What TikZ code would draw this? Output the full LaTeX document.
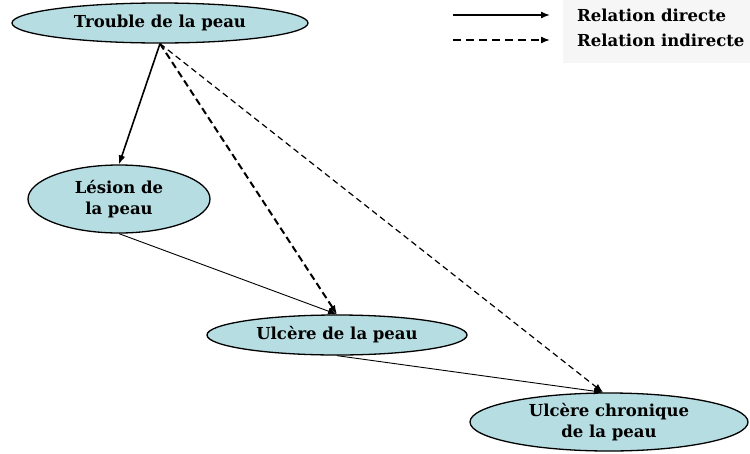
\documentclass[tikz,border=0pt]{standalone}
\usepackage{fontspec}
\setmainfont{DejaVu Serif}
\usepackage{tikz}
\usetikzlibrary{positioning}
\usetikzlibrary{arrows.meta}
\usetikzlibrary{shapes.geometric}
\definecolor{skin}{RGB}{182,221,226}
\definecolor{legendback}{RGB}{246,246,246}

\begin{document}
\begin{tikzpicture}[->,>={Latex[length=9pt,width=7pt]},on grid,
  main node/.style={ellipse,draw,line width=1.3pt,fill=skin,inner sep=0pt,align=center,
    font=\fontsize{16.5}{21}\selectfont\bfseries},
  legend node/.style={anchor=west,inner sep=0pt,font=\fontsize{16.5}{18}\selectfont\bfseries},
  direct/.style={solid,line width=0.9pt},
  indirect/.style={line width=1.2pt,dash pattern=on 6pt off 4pt}]

  \useasboundingbox (0,0) rectangle (750pt,-453pt);
  \fill[-,legendback] (563pt,0) rectangle (750pt,-63pt);

  \node[main node,minimum width=296pt,minimum height=40pt] (1) at (160pt,-23pt) {Trouble de la peau};
  \node[main node,minimum width=182pt,minimum height=68pt] (2) [below left=176pt and 41pt of 1] {Lésion de\\la peau};
  \node[main node,minimum width=260pt,minimum height=40pt] (3) [below right=136pt and 218pt of 2] {Ulcère de la peau};
  \node[main node,minimum width=278pt,minimum height=58pt] (4) [below right=87pt and 272pt of 3] {Ulcère chronique\\de la peau};

  % legend
  \node (5) [above right=8pt and 417pt of 1,legend node] {Relation directe};
  \node (6) [below=25pt of 5.west,legend node] {Relation indirecte};
  \coordinate (a) at ([xshift=-124pt]5.west);
  \coordinate (b) at ([xshift=-27pt]5.west);
  \coordinate (c) at ([xshift=-124pt]6.west);
  \coordinate (d) at ([xshift=-27pt]6.west);
  \draw[line width=1.4pt] (a) -- (b);
  \draw[line width=1.4pt,dash pattern=on 8pt off 5pt] (c) -- (d);

  \path
    (1.south) edge[direct,line width=1.6pt] (2.north)
    (1.south) edge[indirect,line width=2pt,dash pattern=on 7pt off 4pt] (3.north)
    (1.south) edge[indirect] ([xshift=-6pt]4.north)
    (2.south) edge[direct] (3.north)
    (3.south) edge[direct] ([xshift=-6pt]4.north);
\end{tikzpicture}
\end{document}
